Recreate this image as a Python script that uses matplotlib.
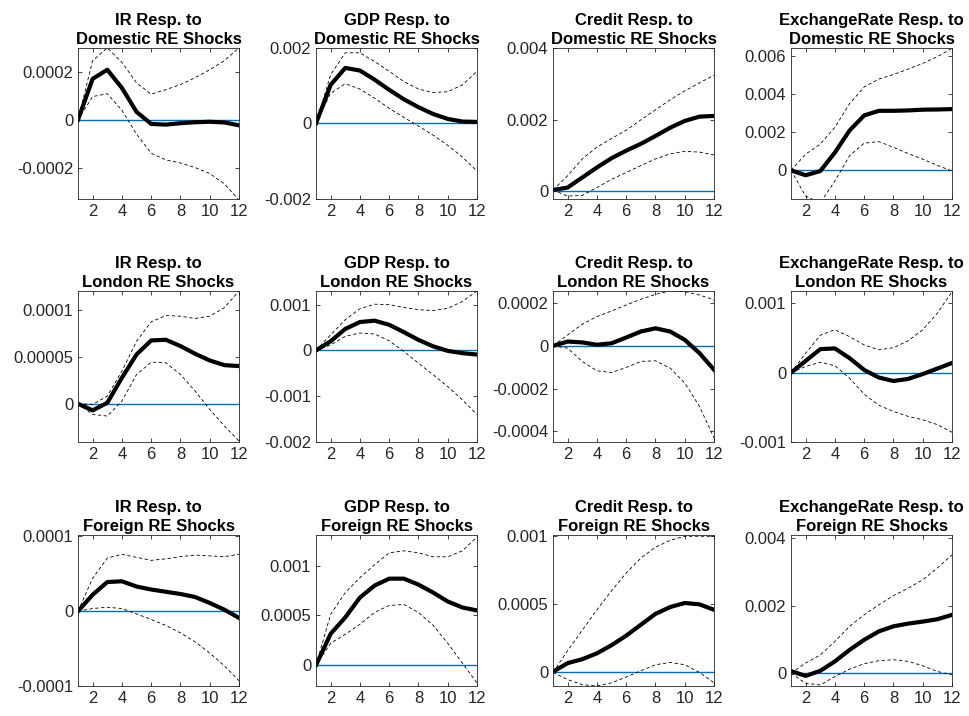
'''
Impulse responses to RE shocks, 3x4 grid
'''

import numpy as np
import matplotlib.pyplot as plt
from matplotlib.ticker import FuncFormatter

plt.rcParams['font.family'] = ['Liberation Sans', 'DejaVu Sans']

horizon = np.arange(1, 13)
variables = ['IR', 'GDP', 'Credit', 'ExchangeRate']
shocks = ['Domestic', 'London', 'Foreign']

# median responses and bands (hi / lo) per shock and variable
ir_dom = [0, 0.000171, 0.000209, 0.000133, 0.000033, -0.000017, -0.00002, -0.000014, -0.00001, -0.000008, -0.000011, -0.000023]
ir_dom_hi = [0, 0.000247, 0.0003, 0.00024, 0.000154, 0.000107, 0.000126, 0.000147, 0.000176, 0.000209, 0.000247, 0.0003]
ir_dom_lo = [0, 0.000097, 0.000109, 0.00004, -0.00006, -0.000139, -0.000167, -0.00018, -0.000199, -0.000224, -0.000267, -0.000335]

gdp_dom = [0, 0.00102, 0.00147, 0.0014, 0.00116, 0.00089, 0.00064, 0.00043, 0.00025, 0.00012, 0.00005, 0.00004]
gdp_dom_hi = [0, 0.00129, 0.00187, 0.00187, 0.00164, 0.00138, 0.00111, 0.00091, 0.00082, 0.00084, 0.00102, 0.00138]
gdp_dom_lo = [0, 0.0008, 0.00105, 0.00091, 0.00067, 0.0004, 0.00016, -0.00007, -0.00031, -0.00058, -0.00089, -0.00126]

cr_dom = [0.00003, 0.0001, 0.00038, 0.00066, 0.00092, 0.00113, 0.00132, 0.00154, 0.00177, 0.00196, 0.00208, 0.0021]
cr_dom_hi = [0.00003, 0.00043, 0.0009, 0.00123, 0.00147, 0.0017, 0.00199, 0.00227, 0.00255, 0.0028, 0.00302, 0.00324]
cr_dom_lo = [0.00003, -0.00014, -0.00012, 0.0001, 0.00033, 0.00052, 0.00071, 0.0009, 0.00104, 0.00111, 0.00109, 0.00101]

ex_dom = [0, -0.00026, -0.00004, 0.00093, 0.00208, 0.00287, 0.00311, 0.00311, 0.00313, 0.00317, 0.00318, 0.0032]
ex_dom_hi = [0, 0.00084, 0.00137, 0.00225, 0.00348, 0.00436, 0.00477, 0.00501, 0.00529, 0.00559, 0.00594, 0.00638]
ex_dom_lo = [0, -0.00135, -0.0017, -0.00056, 0.00076, 0.00142, 0.0015, 0.0012, 0.00088, 0.00058, 0.00026, -0.00004]

ir_lon = [0, -0.0000071, 0.000001, 0.0000279, 0.0000529, 0.0000679, 0.0000686, 0.0000618, 0.0000536, 0.0000464, 0.0000414, 0.0000404]
ir_lon_hi = [0, -0.0000007, 0.0000082, 0.000035, 0.0000671, 0.0000879, 0.0000946, 0.0000939, 0.0000914, 0.0000939, 0.000103, 0.000121]
ir_lon_lo = [0, -0.0000114, -0.0000132, 0.0000029, 0.0000314, 0.0000446, 0.0000439, 0.0000314, 0.0000136, -0.0000061, -0.0000239, -0.00004]

gdp_lon = [0, 0.0002, 0.00047, 0.00062, 0.00065, 0.00056, 0.0004, 0.00023, 0.00009, -0.00001, -0.00006, -0.00009]
gdp_lon_hi = [0, 0.00034, 0.00067, 0.00091, 0.00101, 0.001, 0.00094, 0.00089, 0.00087, 0.00092, 0.00107, 0.0013]
gdp_lon_lo = [0, 0.00012, 0.00031, 0.00038, 0.00036, 0.00021, -0.00002, -0.00028, -0.00053, -0.00079, -0.00108, -0.0014]

cr_lon = [0, 0.00002, 0.000016, 0.000005, 0.000012, 0.000039, 0.000067, 0.000082, 0.000067, 0.000028, -0.000034, -0.000112]
cr_lon_hi = [0, 0.000051, 0.000101, 0.000137, 0.000163, 0.000191, 0.000218, 0.000241, 0.000257, 0.000254, 0.000238, 0.000215]
cr_lon_lo = [0, -0.000011, -0.000073, -0.000117, -0.000125, -0.000101, -0.000073, -0.00007, -0.000104, -0.000174, -0.000283, -0.000431]

ex_lon = [0, 0.00017, 0.00034, 0.00035, 0.00021, 0.00004, -0.00007, -0.00012, -0.00009, -0.00002, 0.00006, 0.00014]
ex_lon_hi = [0, 0.00028, 0.00054, 0.00062, 0.00052, 0.0004, 0.00033, 0.00036, 0.00046, 0.00062, 0.00086, 0.00117]
ex_lon_lo = [0, 0.00009, 0.00015, 0.0001, -0.00008, -0.00031, -0.00047, -0.00056, -0.00063, -0.00068, -0.00075, -0.00086]

ir_for = [0, 0.000022, 0.000039, 0.00004, 0.000033, 0.000029, 0.000026, 0.000023, 0.000019, 0.000011, 0.000002, -0.000009]
ir_for_hi = [0, 0.000044, 0.000071, 0.000076, 0.000072, 0.000068, 0.00007, 0.000073, 0.000075, 0.000074, 0.000073, 0.000076]
ir_for_lo = [0, 0.0000036, 0.0000053, 0.0000036, -0.0000036, -0.000011, -0.000019, -0.000029, -0.000041, -0.000056, -0.000073, -0.000093]

gdp_for = [0, 0.000315, 0.00048, 0.00068, 0.0008, 0.00087, 0.00087, 0.00081, 0.00073, 0.00064, 0.00058, 0.00055]
gdp_for_hi = [0, 0.00051, 0.00073, 0.00088, 0.00101, 0.00113, 0.00115, 0.00113, 0.00109, 0.00109, 0.00115, 0.00129]
gdp_for_lo = [0, 0.00022, 0.00031, 0.00041, 0.00053, 0.0006, 0.00061, 0.00053, 0.0004, 0.00022, 0.00002, -0.00018]

cr_for = [0.000005, 0.000068, 0.000097, 0.00014, 0.0002, 0.00027, 0.00035, 0.00043, 0.00048, 0.00051, 0.0005, 0.00046]
cr_for_hi = [0, 0.00016, 0.00031, 0.00046, 0.0006, 0.00073, 0.00084, 0.00092, 0.00097, 0.001, 0.001, 0.001]
cr_for_lo = [0, -0.000053, -0.00009, -0.0001, -0.000077, -0.000034, 0.000012, 0.000056, 0.000073, 0.000056, 0, -0.000077]

ex_for = [0.00006, -0.00008, 0.00007, 0.00035, 0.00069, 0.00099, 0.00124, 0.00139, 0.00147, 0.00153, 0.0016, 0.00173]
ex_for_hi = [0, 0.0003, 0.00054, 0.00094, 0.00139, 0.00173, 0.00203, 0.0023, 0.00252, 0.00277, 0.00312, 0.00351]
ex_for_lo = [0, -0.0003, -0.00035, -0.0001, 0.00012, 0.00028, 0.00037, 0.0004, 0.00035, 0.00022, 0.00005, -0.00005]

responses = [[(ir_dom, ir_dom_hi, ir_dom_lo), (gdp_dom, gdp_dom_hi, gdp_dom_lo),
              (cr_dom, cr_dom_hi, cr_dom_lo), (ex_dom, ex_dom_hi, ex_dom_lo)],
             [(ir_lon, ir_lon_hi, ir_lon_lo), (gdp_lon, gdp_lon_hi, gdp_lon_lo),
              (cr_lon, cr_lon_hi, cr_lon_lo), (ex_lon, ex_lon_hi, ex_lon_lo)],
             [(ir_for, ir_for_hi, ir_for_lo), (gdp_for, gdp_for_hi, gdp_for_lo),
              (cr_for, cr_for_hi, cr_for_lo), (ex_for, ex_for_hi, ex_for_lo)]]

yticks = [[[-0.0002, 0, 0.0002], [-0.002, 0, 0.002], [0, 0.002, 0.004], [0, 0.002, 0.004, 0.006]],
          [[0, 0.00005, 0.0001], [-0.002, -0.001, 0, 0.001], [-0.0004, -0.0002, 0, 0.0002], [-0.001, 0, 0.001]],
          [[-0.0001, 0, 0.0001], [0, 0.0005, 0.001], [0, 0.0005, 0.001], [0, 0.002, 0.004]]]

ylims = [[(-0.00033, 0.0003), (-0.002, 0.002), (-0.00022, 0.004), (-0.0015, 0.0064)],
         [(-0.000041, 0.000121), (-0.002, 0.0013), (-0.00045, 0.000257), (-0.001, 0.00118)],
         [(-0.0001, 0.000102), (-0.00021, 0.00131), (-0.0001, 0.00101), (-0.00038, 0.0041)]]


def fmt(v, pos):
    s = f"{v:.6f}".rstrip('0').rstrip('.')
    if s in ('-0', ''):
        s = '0'
    return s


fig = plt.figure(figsize=(9.69, 7.16), dpi=100)
lefts = [0.0805, 0.3261, 0.5707, 0.8163]
bottoms = [0.7221, 0.3827, 0.0419]
w, h = 0.1662, 0.211
gray = '#262626'

for i, shock in enumerate(shocks):
    for j, var in enumerate(variables):
        ax = fig.add_axes([lefts[j], bottoms[i], w, h])
        med, hi, lo = responses[i][j]
        ax.plot(horizon, np.zeros(len(horizon)), color='#0072BD', lw=1.0)
        ax.plot(horizon, hi, color='k', lw=0.6, ls=(0, (4, 3)))
        ax.plot(horizon, lo, color='k', lw=0.6, ls=(0, (4, 3)))
        ax.plot(horizon, med, color='k', lw=3)
        ax.set_xlim(1, 12)
        ax.set_ylim(*ylims[i][j])
        ax.set_xticks([2, 4, 6, 8, 10, 12])
        ax.set_yticks(yticks[i][j])
        ax.yaxis.set_major_formatter(FuncFormatter(fmt))
        ax.tick_params(direction='in', top=True, right=True, length=3,
                       labelsize=12, colors=gray, width=0.6)
        for sp in ax.spines.values():
            sp.set_color(gray)
            sp.set_linewidth(0.6)
        ax.set_title(f'{var} Resp. to\n{shock} RE Shocks', fontsize=12,
                     fontweight='bold', linespacing=1.3, pad=3)

plt.savefig('out.png', dpi=100)
